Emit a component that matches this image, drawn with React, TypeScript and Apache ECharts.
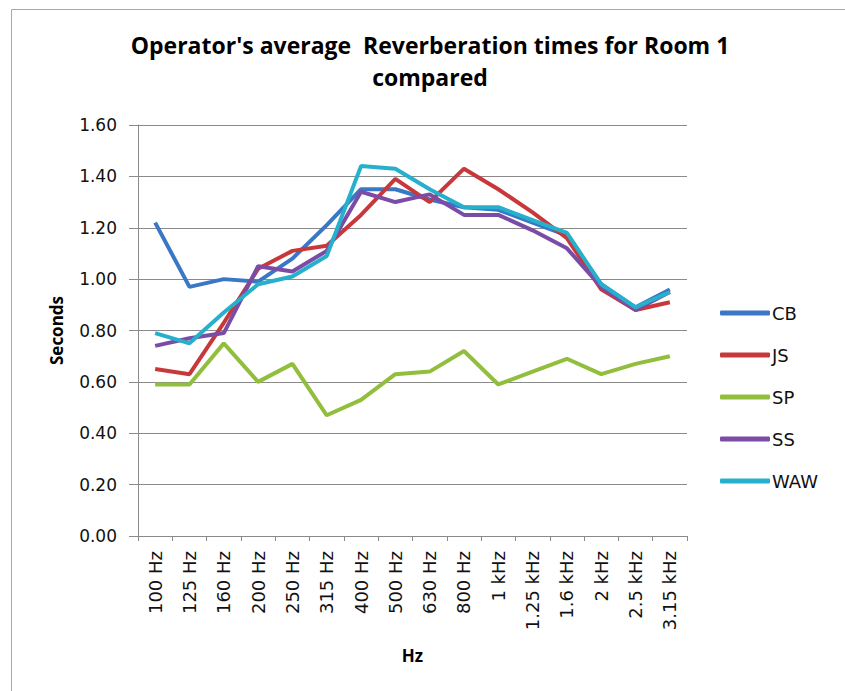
import React, { useEffect, useRef } from "react";
import * as echarts from "echarts";

const categories = ["100 Hz", "125 Hz", "160 Hz", "200 Hz", "250 Hz", "315 Hz", "400 Hz", "500 Hz", "630 Hz", "800 Hz", "1 kHz", "1.25 kHz", "1.6 kHz", "2 kHz", "2.5 kHz", "3.15 kHz"];
const seriesNames = ["CB", "JS", "SP", "SS", "WAW"];
const CB = [1.22, 0.97, 1.0, 0.99, 1.08, 1.21, 1.35, 1.35, 1.31, 1.28, 1.27, 1.22, 1.17, 0.98, 0.89, 0.96];
const JS = [0.65, 0.63, 0.83, 1.04, 1.11, 1.13, 1.25, 1.39, 1.3, 1.43, 1.35, 1.26, 1.16, 0.96, 0.88, 0.91];
const SP = [0.59, 0.59, 0.75, 0.6, 0.67, 0.47, 0.53, 0.63, 0.64, 0.72, 0.59, 0.64, 0.69, 0.63, 0.67, 0.7];
const SS = [0.74, 0.77, 0.79, 1.05, 1.03, 1.11, 1.34, 1.3, 1.33, 1.25, 1.25, 1.19, 1.12, 0.97, 0.88, 0.95];
const WAW = [0.79, 0.75, 0.87, 0.98, 1.01, 1.09, 1.44, 1.43, 1.35, 1.28, 1.28, 1.23, 1.18, 0.98, 0.89, 0.95];
const yTicks = { min: 0, max: 1.6, interval: 0.2 };
const colors = ["#3a78c6", "#c8383a", "#92be3e", "#7a4ca6", "#26b0cc"];

export default function App() {
  const ref = useRef<HTMLDivElement>(null);
  useEffect(() => {
    const chart = echarts.init(ref.current!, undefined, { renderer: "svg" });
    const data = [CB, JS, SP, SS, WAW];
    chart.setOption({
      animation: false,
      color: colors,
      graphic: [
        { type: "line", shape: { x1: 11.5, y1: 9.5, x2: 845, y2: 9.5 }, style: { stroke: "#a8a8a8", lineWidth: 1 } },
        { type: "line", shape: { x1: 11.5, y1: 9.5, x2: 11.5, y2: 691 }, style: { stroke: "#a8a8a8", lineWidth: 1 } },
        {
          type: "text",
          x: 430,
          y: 29,
          style: {
            text: "Operator's average  Reverberation times for Room 1\ncompared",
            fontFamily: "Open Sans",
            fontWeight: "bold",
            fontSize: 23,
            lineHeight: 32,
            fill: "#000",
            align: "center",
            verticalAlign: "top",
          },
        },
      ],
      legend: {
        orient: "vertical",
        left: 715,
        top: 299,
        itemWidth: 50,
        itemHeight: 5,
        itemGap: 24,
        icon: "roundRect",
        data: seriesNames,
        textStyle: { fontFamily: "DejaVu Sans", fontSize: 18, color: "#111", padding: [0, 0, 0, -3] },
      },
      grid: { left: 138, right: 158, top: 125, bottom: 155 },
      xAxis: {
        type: "category",
        data: categories,
        boundaryGap: true,
        name: "Hz",
        nameLocation: "middle",
        nameGap: 111,
        nameTextStyle: { fontFamily: "Open Sans", fontWeight: "bold", fontSize: 17, color: "#000" },
        axisLine: { lineStyle: { color: "#8a8a8a", width: 1 } },
        axisTick: { show: true, interval: 0, length: 5, lineStyle: { color: "#8a8a8a" } },
        axisLabel: { interval: 0, rotate: 90, margin: 15, fontFamily: "DejaVu Sans", fontSize: 18, color: "#111" },
        splitLine: { show: false },
      },
      yAxis: {
        type: "value",
        min: yTicks.min,
        max: yTicks.max,
        interval: yTicks.interval,
        name: "Seconds",
        nameLocation: "middle",
        nameGap: 73,
        nameTextStyle: { fontFamily: "Open Sans", fontWeight: "bold", fontSize: 17, color: "#000" },
        axisLine: { show: true, lineStyle: { color: "#8a8a8a", width: 1 } },
        axisTick: { show: true, length: 9, lineStyle: { color: "#8a8a8a" } },
        axisLabel: { margin: 21, fontFamily: "DejaVu Sans", fontSize: 17, color: "#111", formatter: (v: number) => v.toFixed(2) },
        splitLine: { show: true, lineStyle: { color: "#8a8a8a", width: 1 } },
      },
      series: seriesNames.map((name, i) => ({
        name,
        type: "line",
        data: data[i],
        symbol: "none",
        lineStyle: { width: 4, color: colors[i] },
        itemStyle: { color: colors[i] },
      })),
    });
    return () => chart.dispose();
  }, []);
  return <div ref={ref} style={{ position: "fixed", left: 0, top: 0, width: 845, height: 691, background: "#fff" }} />;
}
